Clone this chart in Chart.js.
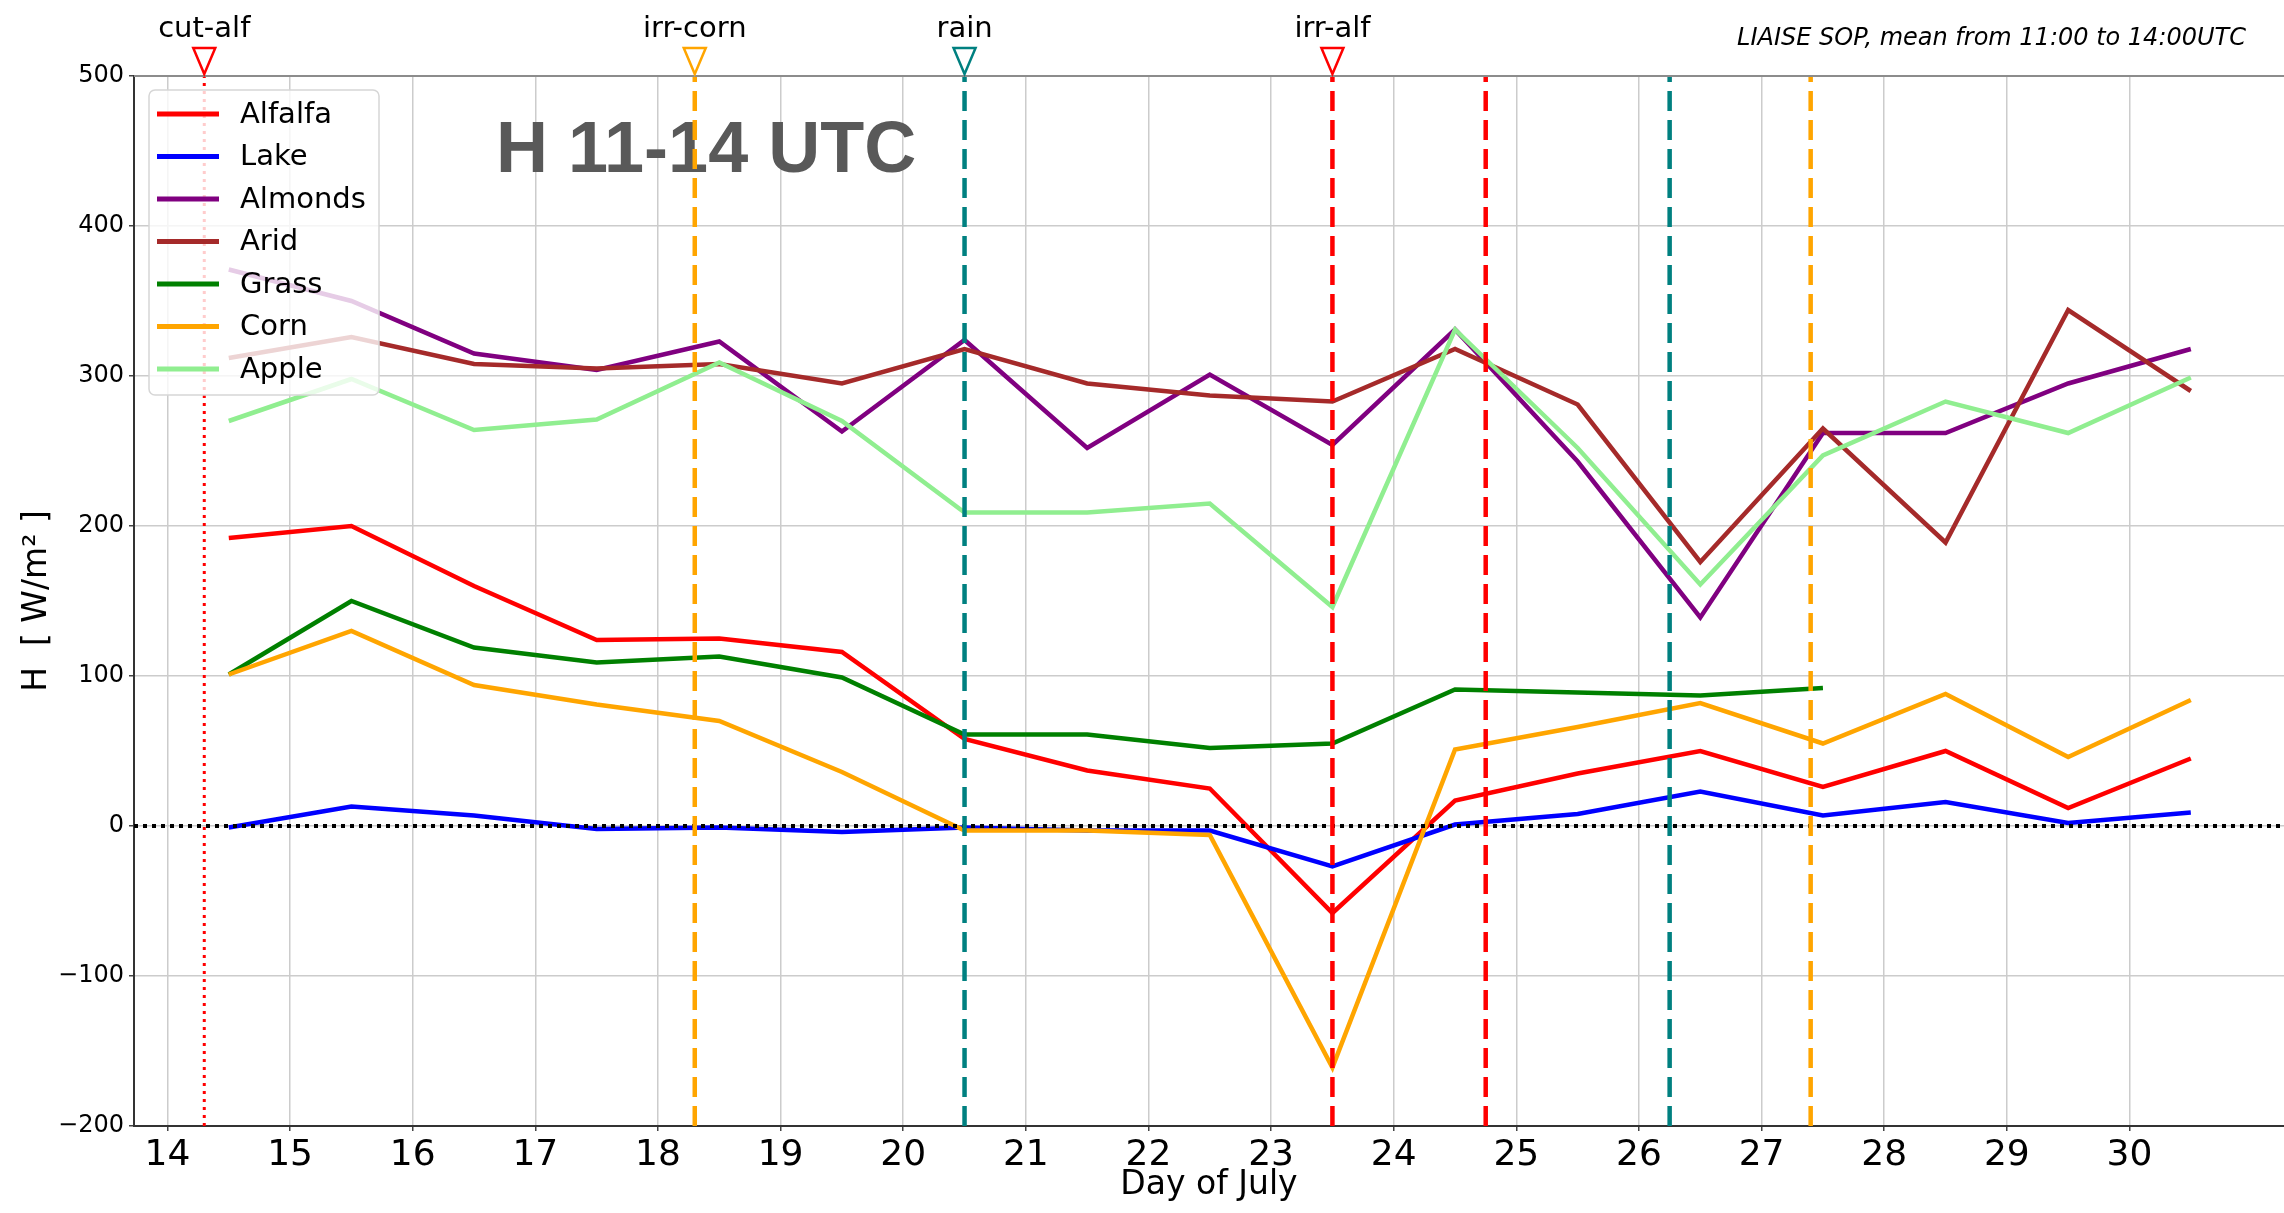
<!DOCTYPE html>
<html>
<head>
<meta charset="utf-8">
<script src="https://cdn.jsdelivr.net/npm/chart.js@4.4.1/dist/chart.umd.min.js"></script>
<style>
  html, body { margin: 0; padding: 0; background: #fff; }
  canvas { display: block; }
</style>
</head>
<body>
<canvas id="chart" width="2284" height="1213"></canvas>
<script>
// ---- data ----
const days = [14.5, 15.5, 16.5, 17.5, 18.5, 19.5, 20.5, 21.5, 22.5, 23.5, 24.5, 25.5, 26.5, 27.5, 28.5, 29.5, 30.5];
const alfalfa = [192, 200, 160, 124, 125, 116, 58, 37, 25, -58, 17, 35, 50, 26, 50, 12, 45];
const lake    = [-1, 13, 7, -2, -1, -4, -1, -3, -3, -27, 1, 8, 23, 7, 16, 2, 9];
const almonds = [371, 350, 315, 304, 323, 263, 324, 252, 301, 254, 331, 243, 139, 262, 262, 295, 318];
const arid    = [312, 326, 308, 305, 308, 295, 318, 295, 287, 283, 318, 281, 176, 265, 189, 344, 290];
const grass   = [101, 150, 119, 109, 113, 99, 61, 61, 52, 55, 91, 89, 87, 92];
const corn    = [101, 130, 94, 81, 70, 36, -3, -3, -6, -161, 51, 66, 82, 55, 88, 46, 84];
const apple   = [270, 298, 264, 271, 309, 270, 209, 209, 215, 146, 331, 252, 161, 247, 283, 262, 299];

const xTicks = [14, 15, 16, 17, 18, 19, 20, 21, 22, 23, 24, 25, 26, 27, 28, 29, 30];
const yTicks = [-200, -100, 0, 100, 200, 300, 400, 500];

// events (day of July) and their top labels
const eventDays   = [14.3, 18.3, 20.5, 23.5, 24.75, 26.25, 27.4];
const eventLabels = ['cut-alf', 'irr-corn', 'rain', 'irr-alf', '', '', ''];

// ---- styles ----
const eventColors = ['#ff0000', '#ffa500', '#008080', '#ff0000', '#ff0000', '#008080', '#ffa500'];
const FONT = '"DejaVu Sans", Verdana, sans-serif';

const series = [
    { label: 'Alfalfa', values: alfalfa, color: '#ff0000' },
    { label: 'Lake',    values: lake,    color: '#0000ff' },
    { label: 'Almonds', values: almonds, color: '#800080' },
    { label: 'Arid',    values: arid,    color: '#a52a2a' },
    { label: 'Grass',   values: grass,   color: '#008000' },
    { label: 'Corn',    values: corn,    color: '#ffa500' },
    { label: 'Apple',   values: apple,   color: '#90ee90' }
];

const datasets = series.map((s, i) => ({
    label: s.label,
    data: s.values.map((v, k) => ({ x: days[k], y: v })),
    borderColor: s.color,
    backgroundColor: s.color,
    borderWidth: 4.5,
    pointRadius: 0,
    tension: 0,
    fill: false,
    order: series.length - i   // later series on top, like matplotlib
}));

// zero line, event lines, annotations, legend
const overlay = {
    id: 'overlay',
    afterDatasetsDraw(chart) {
        const { ctx, chartArea: a, scales: { x, y } } = chart;
        ctx.save();

        // big label
        ctx.fillStyle = '#595959';
        ctx.font = 'bold 72px "Liberation Sans", Arial, sans-serif';
        ctx.textAlign = 'left';
        ctx.textBaseline = 'alphabetic';
        ctx.fillText('H 11-14 UTC', 496, 172);

        // zero line
        const y0 = y.getPixelForValue(0);
        ctx.strokeStyle = '#000';
        ctx.lineWidth = 4;
        ctx.setLineDash([4, 5]);
        ctx.beginPath();
        ctx.moveTo(a.left, y0);
        ctx.lineTo(a.right, y0);
        ctx.stroke();

        // event lines
        eventDays.forEach((d, i) => {
            const px = x.getPixelForValue(d);
            ctx.strokeStyle = eventColors[i];
            if (i === 0) {
                ctx.lineWidth = 3;
                ctx.setLineDash([3, 5]);
            } else {
                ctx.lineWidth = 4.5;
                ctx.setLineDash([20, 9]);
            }
            ctx.beginPath();
            ctx.moveTo(px, a.bottom);
            ctx.lineTo(px, a.top);
            ctx.stroke();
        });
        ctx.setLineDash([]);

        // top spine
        ctx.strokeStyle = '#8c8c8c';
        ctx.lineWidth = 2;
        ctx.beginPath();
        ctx.moveTo(a.left, a.top);
        ctx.lineTo(a.right, a.top);
        ctx.stroke();

        // markers + labels above the axes
        eventDays.forEach((d, i) => {
            if (!eventLabels[i]) return;
            const px = x.getPixelForValue(d);
            ctx.fillStyle = '#fff';
            ctx.strokeStyle = eventColors[i];
            ctx.lineWidth = 2.5;
            ctx.beginPath();
            ctx.moveTo(px - 11, a.top - 28);
            ctx.lineTo(px + 11, a.top - 28);
            ctx.lineTo(px, a.top - 2);
            ctx.closePath();
            ctx.fill();
            ctx.stroke();
            ctx.fillStyle = '#000';
            ctx.font = '29px ' + FONT;
            ctx.textAlign = 'center';
            ctx.textBaseline = 'middle';
            ctx.fillText(eventLabels[i], px, 29);
        });

        // note top-right
        ctx.font = 'italic 24px ' + FONT;
        ctx.textAlign = 'right';
        ctx.textBaseline = 'middle';
        ctx.fillStyle = '#000';
        ctx.fillText('LIAISE SOP, mean from 11:00 to 14:00UTC', 2246, 39);

        // legend
        const lx = 149, ly = 90, lw = 230, lh = 305;
        ctx.fillStyle = 'rgba(255,255,255,0.8)';
        ctx.strokeStyle = '#d6d6d6';
        ctx.lineWidth = 1.5;
        ctx.beginPath();
        ctx.roundRect(lx, ly, lw, lh, 6);
        ctx.fill();
        ctx.stroke();
        ctx.font = '29px ' + FONT;
        ctx.textAlign = 'left';
        ctx.textBaseline = 'middle';
        chart.data.datasets.forEach((ds, i) => {
            const cy = 114 + i * 42.5;
            ctx.strokeStyle = ds.borderColor;
            ctx.lineWidth = 5;
            ctx.beginPath();
            ctx.moveTo(157, cy);
            ctx.lineTo(219, cy);
            ctx.stroke();
            ctx.fillStyle = '#000';
            ctx.fillText(ds.label, 240, cy + 1);
        });

        ctx.restore();
    }
};

new Chart(document.getElementById('chart'), {
    type: 'line',
    data: { datasets },
    options: {
        responsive: false,
        animation: false,
        devicePixelRatio: 1,
        layout: { padding: { top: 76, left: 0, right: 0, bottom: 0 } },
        plugins: { legend: { display: false }, tooltip: { enabled: false } },
        scales: {
            x: {
                type: 'linear',
                min: 13.727,
                max: 31.26,
                afterBuildTicks: s => { s.ticks = xTicks.map(v => ({ value: v })); },
                afterFit: s => { s.height = 87; },
                grid: { color: '#cccccc', lineWidth: 1.5, tickColor: '#444', tickLength: 5 },
                border: { color: '#333', width: 2 },
                ticks: { color: '#000', font: { family: FONT, size: 36 }, padding: 3, maxRotation: 0 },
                title: { display: true, text: 'Day of July', color: '#000', font: { family: FONT, size: 33 }, padding: { top: 0, bottom: 8 } }
            },
            y: {
                min: -200,
                max: 500,
                afterBuildTicks: s => { s.ticks = yTicks.map(v => ({ value: v })); },
                afterFit: s => { s.width = 134; },
                grid: { color: '#cccccc', lineWidth: 1.5, tickColor: '#444', tickLength: 5 },
                border: { color: '#333', width: 2 },
                ticks: { color: '#000', font: { family: FONT, size: 24 }, padding: 5, callback: v => String(v).replace('-', '\u2212') },
                title: { display: true, text: 'H  [ W/m\u00b2 ]', color: '#000', font: { family: FONT, size: 33 }, padding: { top: 18, bottom: 0 } }
            }
        }
    },
    plugins: [overlay]
});
</script>
</body>
</html>
